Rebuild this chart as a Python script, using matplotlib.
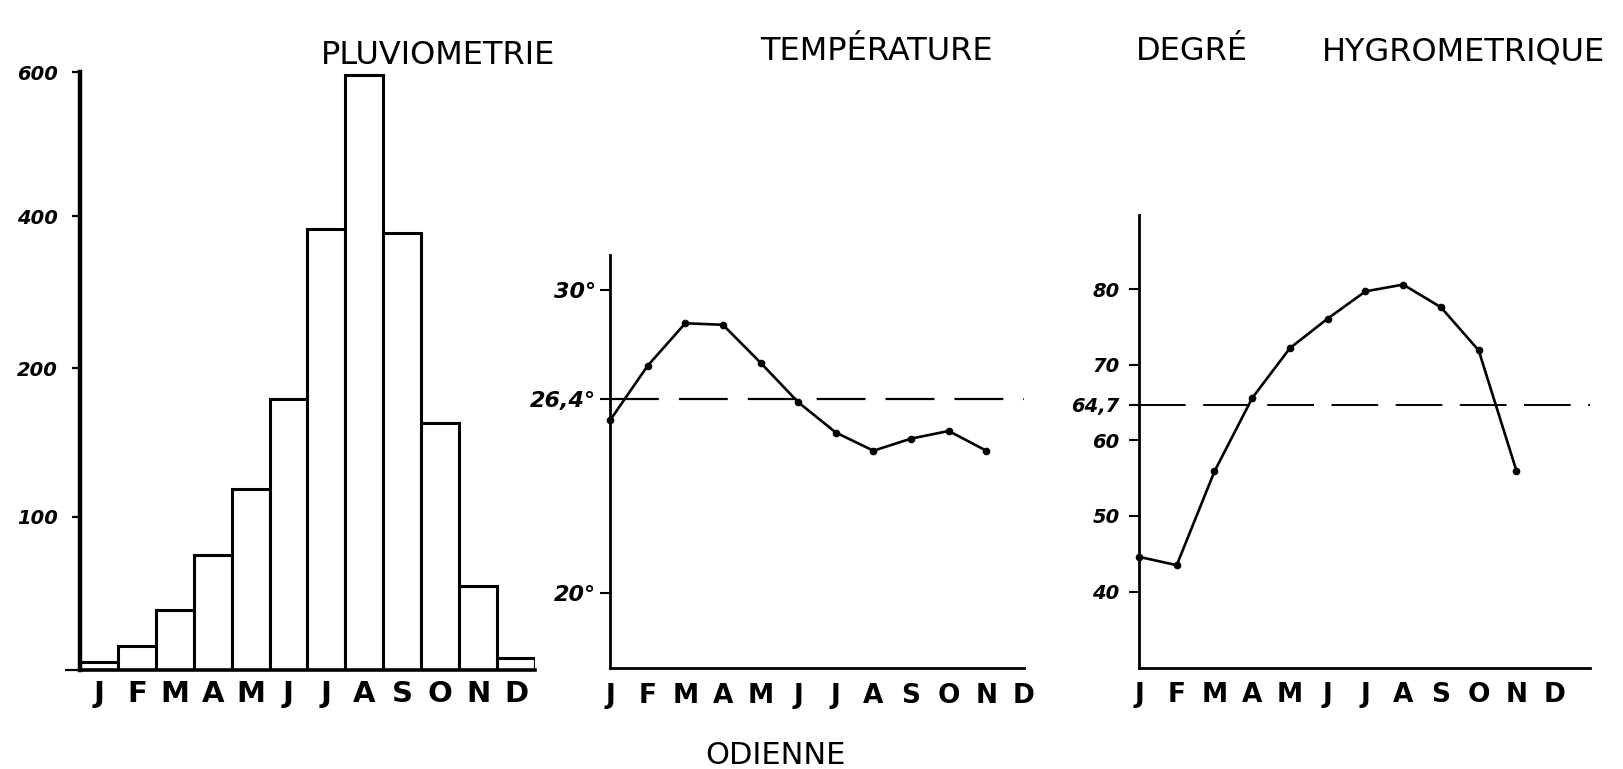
import numpy as np
import matplotlib
matplotlib.use("Agg")
import matplotlib.pyplot as plt

# ---------------- data ----------------
months = ["J", "F", "M", "A", "M", "J", "J", "A", "S", "O", "N", "D"]
rain_mm = [5, 16, 39, 75, 119, 179, 383, 596, 378, 163, 55, 8]
temp_c = [25.7, 27.5, 28.9, 28.85, 27.6, 26.3, 25.3, 24.7, 25.1, 25.35, 24.7]   # J..N
temp_mean = 26.4
humidity = [44.6, 43.5, 55.9, 65.6, 72.2, 76.1, 79.7, 80.6, 77.6, 71.9, 56.0]   # J..N
hum_mean = 64.7

rain_ticks = [100, 200, 400, 600]
rain_tick_labels = ["100", "200", "400", "600"]
temp_ticks = [20, temp_mean, 30]
temp_tick_labels = ["20°", "26,4°", "30°"]
hum_ticks = [40, 50, 60, hum_mean, 70, 80]
hum_tick_labels = ["40", "50", "60", "64,7", "70", "80"]

# hand-drawn, non-linear rain axis: graduations 0,100,200,400,600
scale_vals = np.array([0, 100, 200, 400, 600], float)
scale_pos = np.array([0, 153, 302, 454, 598], float)


def fwd(v):
    v = np.asarray(v, float)
    out = np.interp(v, scale_vals, scale_pos)
    out = np.where(v < 0, v * 1.53, out)
    out = np.where(v > 600, 598 + (v - 600) * 0.72, out)
    return out


def inv(p):
    p = np.asarray(p, float)
    out = np.interp(p, scale_pos, scale_vals)
    out = np.where(p < 0, p / 1.53, out)
    out = np.where(p > 598, 600 + (p - 598) / 0.72, out)
    return out


W, H = 1624, 769
fig = plt.figure(figsize=(W / 100, H / 100), dpi=100)
fig.patch.set_facecolor("white")


def box(l, r, t, b):
    return [l / W, 1 - b / H, (r - l) / W, (b - t) / H]


tick_font = dict(family="DejaVu Sans", style="italic", weight="bold")
month_font = dict(family="DejaVu Sans", weight="bold")


def style(ax):
    for s in ("top", "right"):
        ax.spines[s].set_visible(False)
    for s in ("left", "bottom"):
        ax.spines[s].set_color("black")
    ax.set_facecolor("white")
    ax.tick_params(axis="x", length=0)


# ---------------- Pluviometrie ----------------
ax1 = fig.add_axes(box(80, 535, 72, 670))
style(ax1)
ax1.set_yscale("function", functions=(fwd, inv))
x = np.arange(12) + 0.5
ax1.bar(x, rain_mm, width=1.0, color="white", edgecolor="black", linewidth=2.2)
ax1.set_xlim(0, 12)
ax1.set_ylim(0, 600)
ax1.spines["left"].set_linewidth(3.2)
ax1.spines["bottom"].set_linewidth(2.6)
ax1.set_yticks(rain_ticks)
ax1.set_yticklabels(rain_tick_labels, fontsize=14, **tick_font)
ax1.set_yticks([0], minor=True)
ax1.yaxis.set_minor_formatter(plt.NullFormatter())
ax1.tick_params(axis="y", which="major", length=6, width=1.6, pad=10)
ax1.tick_params(axis="y", which="minor", length=11, width=1.6)
ax1.set_xticks(x)
ax1.set_xticklabels(months, fontsize=21, **month_font)
ax1.tick_params(axis="x", pad=7)

# ---------------- Temperature ----------------
ax2 = fig.add_axes(box(610, 1024, 255, 668))
style(ax2)
ax2.plot(np.arange(len(temp_c)), temp_c, color="black", lw=1.9, marker="o",
         ms=4.5, clip_on=False, zorder=3)
ax2.axhline(temp_mean, color="black", lw=1.6, dashes=(22, 9))
ax2.set_xlim(0, 11)
ax2.set_ylim(17.54, 31.15)
ax2.spines["left"].set_linewidth(2.0)
ax2.spines["bottom"].set_linewidth(2.0)
ax2.set_yticks(temp_ticks)
ax2.set_yticklabels(temp_tick_labels, fontsize=16, **tick_font)
ax2.tick_params(axis="y", length=7, width=1.5, pad=3)
ax2.set_xticks(np.arange(12))
ax2.set_xticklabels(months, fontsize=19, **month_font)
ax2.tick_params(axis="x", pad=11)

# ---------------- Degre hygrometrique ----------------
ax3 = fig.add_axes(box(1139, 1590, 215, 668))
style(ax3)
ax3.plot(np.arange(len(humidity)), humidity, color="black", lw=1.9, marker="o",
         ms=4.5, clip_on=False, zorder=3)
ax3.axhline(hum_mean, color="black", lw=1.4, dashes=(24, 9))
ax3.set_xlim(0, 11.95)
ax3.set_ylim(29.9, 89.8)
ax3.spines["left"].set_linewidth(2.0)
ax3.spines["bottom"].set_linewidth(2.0)
ax3.set_yticks(hum_ticks)
ax3.set_yticklabels(hum_tick_labels, fontsize=14, **tick_font)
ax3.tick_params(axis="y", length=7, width=1.5, pad=7)
ax3.set_xticks(np.arange(12))
ax3.set_xticklabels(months, fontsize=19, **month_font)
ax3.tick_params(axis="x", pad=10)

# ---------------- titles ----------------
title_font = dict(family="DejaVu Sans", fontsize=23, weight="medium",
                  ha="center", va="center")
fig.text(438 / W, 1 - 55 / H, "PLUVIOMETRIE", **title_font)
fig.text(876 / W, 1 - 52 / H, "TEMPÉRATURE", **title_font)
fig.text(1192 / W, 1 - 52 / H, "DEGRÉ", **title_font)
fig.text(1464 / W, 1 - 52 / H, "HYGROMETRIQUE", **title_font)
fig.text(775 / W, 1 - 755 / H, "ODIENNE", family="DejaVu Sans", fontsize=22,
         ha="center", va="center")

fig.savefig("out.png", dpi=100, facecolor="white")
